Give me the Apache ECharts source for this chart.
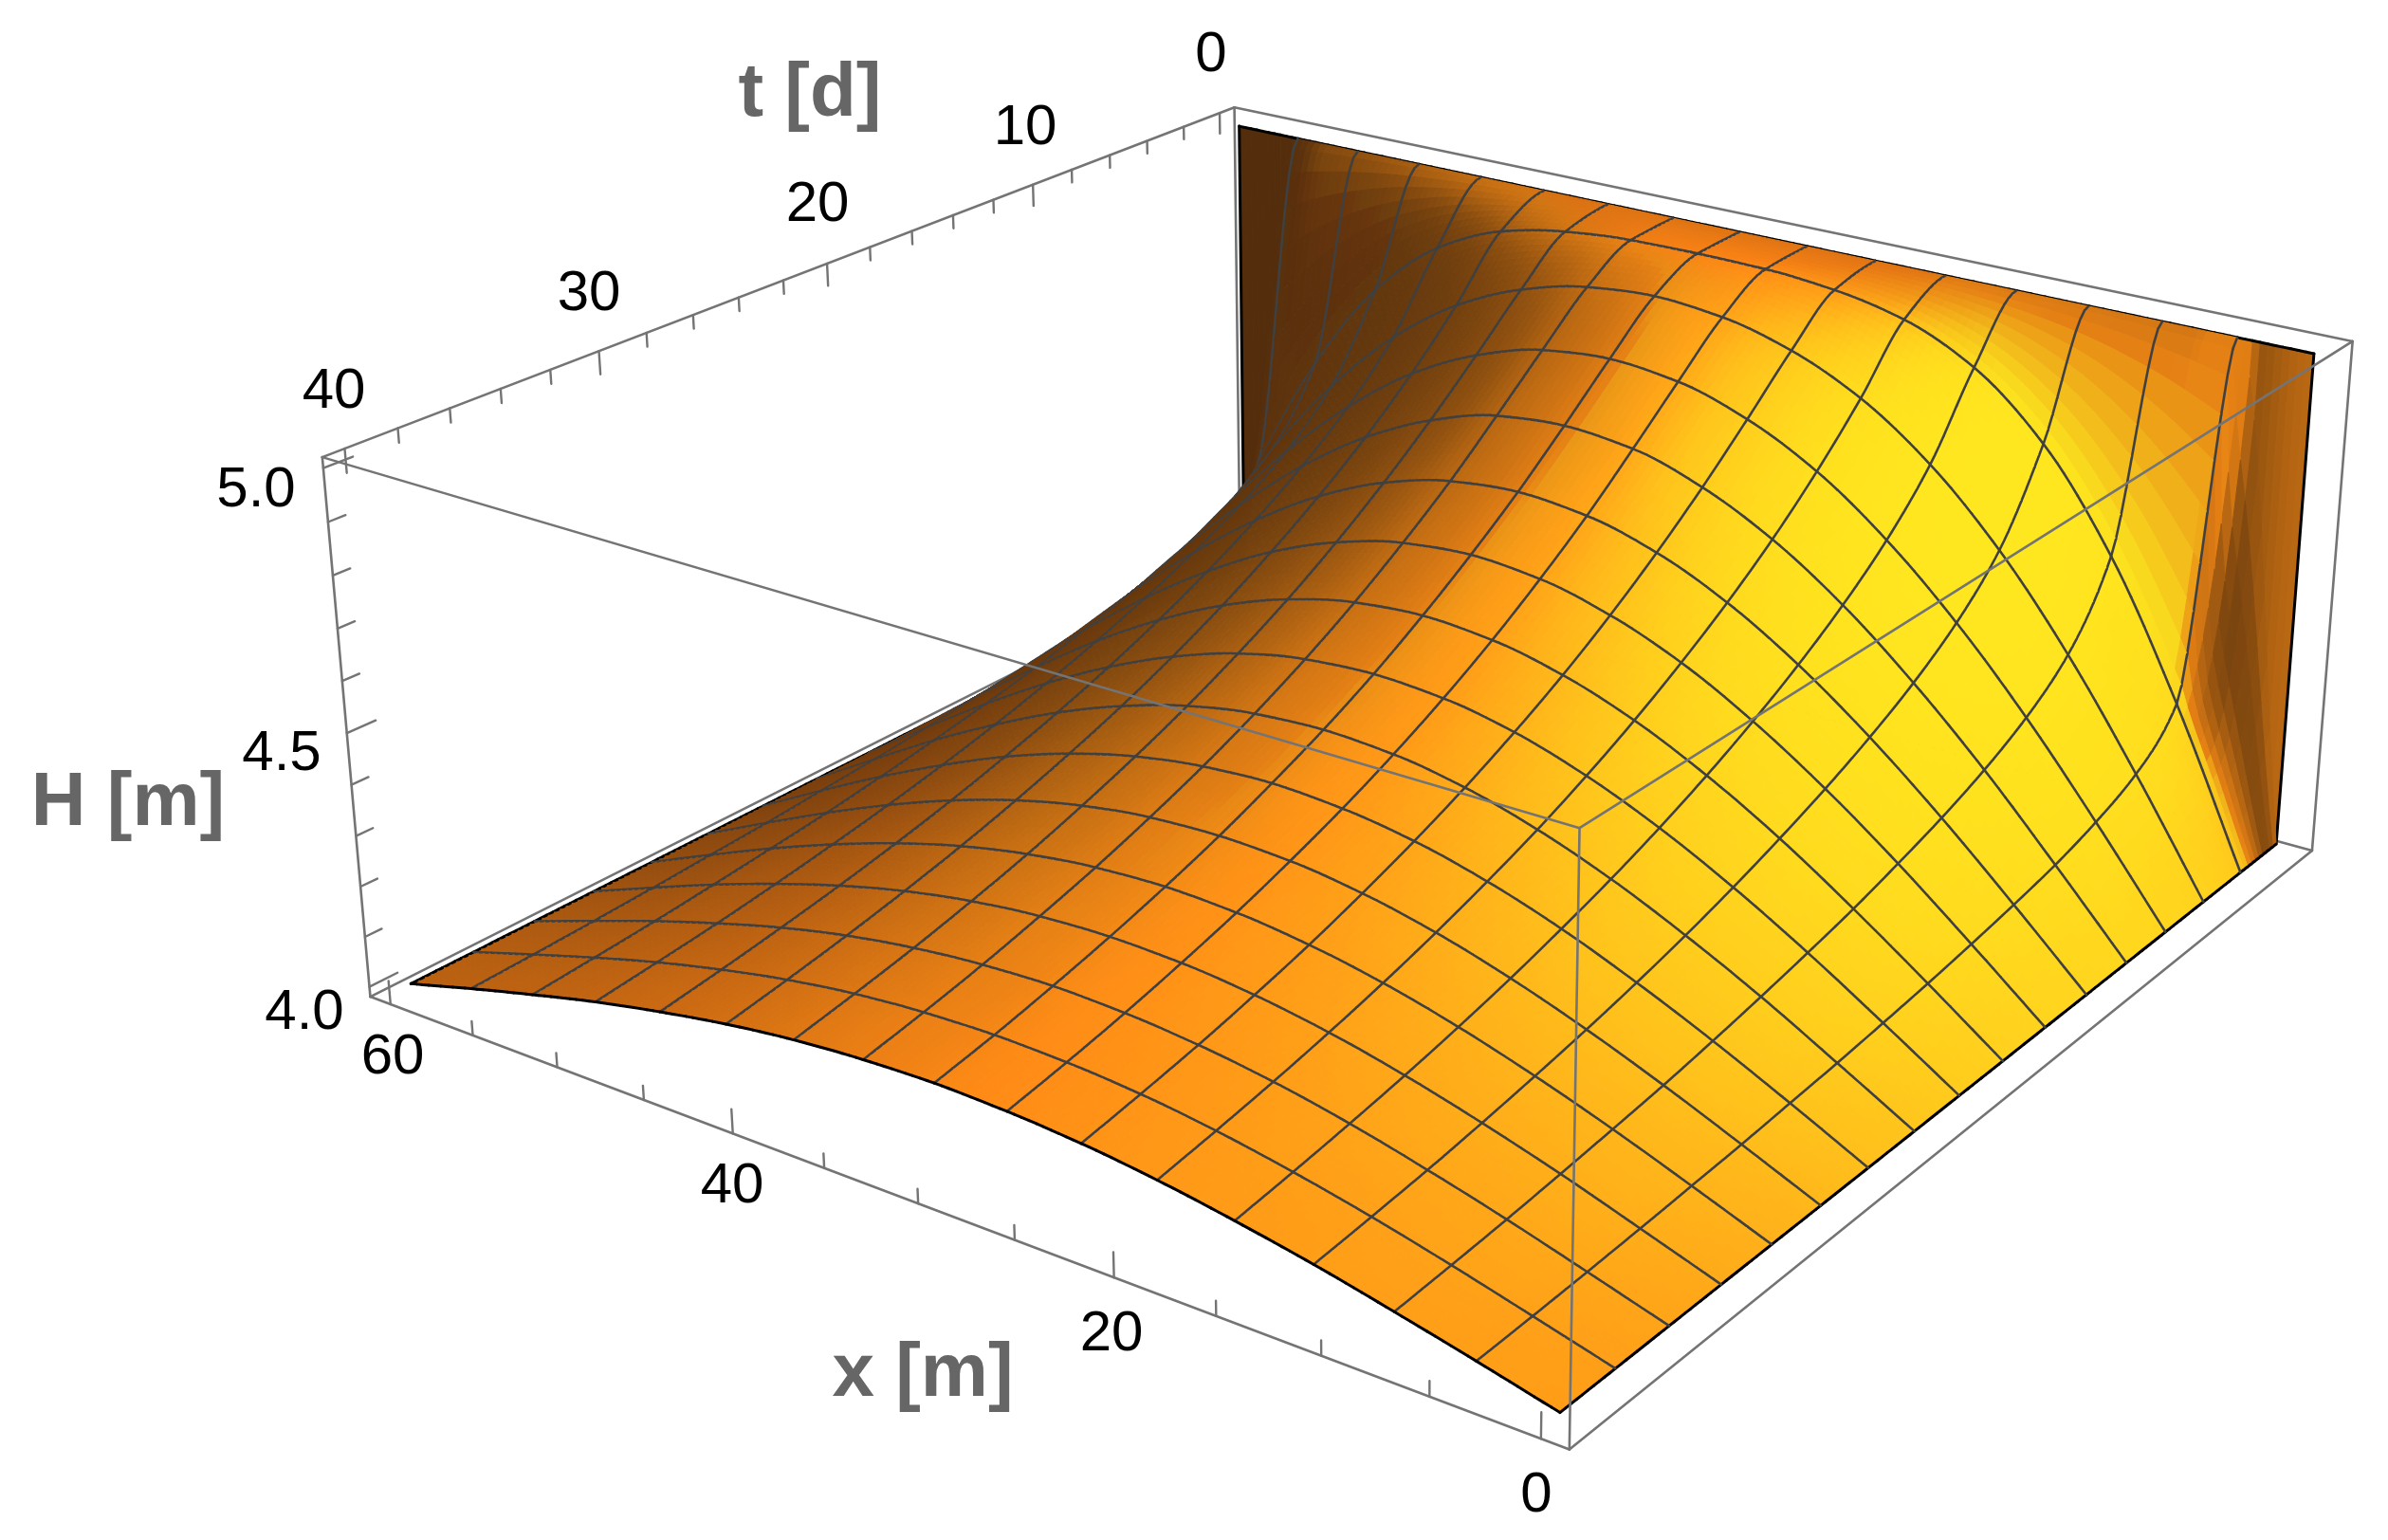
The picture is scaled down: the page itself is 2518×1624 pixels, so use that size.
<!DOCTYPE html>
<html><head><meta charset="utf-8"><style>html,body{margin:0;padding:0;background:#fff}#c{width:2518px;height:1624px}</style>
<script src="https://cdn.jsdelivr.net/npm/echarts@6/dist/echarts.min.js"></script></head>
<body><div id="c"></div><script>
// ---- data ----
const xNodes=[0,3.75,7.5,11.25,15,18.75,22.5,26.25,30,33.75,37.5,41.25,45,48.75,52.5,56.25,60];
const tNodes=[0,0.02,2.5,5,7.5,10,12.5,15,17.5,20,22.5,25,27.5,30,32.5,35,37.5,40];
const H_t0=[5,5,5,5,5,5,5,5,5,5,5,5,5,5,5,5,5];
const H_t002=[4,5,5,5,5,5,5,5,5,5,5,5,5,5,5,5,4];
const H_t2_5=[4,4.310,4.575,4.768,4.889,4.954,4.983,4.995,4.997,4.995,4.983,4.954,4.889,4.768,4.575,4.310,4];
const H_t5=[4,4.222,4.427,4.602,4.740,4.840,4.904,4.940,4.952,4.940,4.904,4.840,4.740,4.602,4.427,4.222,4];
const H_t7_5=[4,4.182,4.354,4.507,4.637,4.740,4.811,4.854,4.868,4.854,4.811,4.740,4.637,4.507,4.354,4.182,4];
const H_t10=[4,4.155,4.305,4.440,4.558,4.653,4.722,4.765,4.778,4.765,4.722,4.653,4.558,4.440,4.305,4.155,4];
const H_t12_5=[4,4.136,4.267,4.387,4.492,4.578,4.641,4.679,4.692,4.679,4.641,4.578,4.492,4.387,4.267,4.136,4];
const H_t15=[4,4.120,4.236,4.342,4.435,4.512,4.568,4.603,4.615,4.603,4.568,4.512,4.435,4.342,4.236,4.120,4];
const H_t17_5=[4,4.106,4.208,4.303,4.385,4.453,4.503,4.534,4.545,4.534,4.503,4.453,4.385,4.303,4.208,4.106,4];
const H_t20=[4,4.094,4.185,4.268,4.341,4.401,4.446,4.473,4.482,4.473,4.446,4.401,4.341,4.268,4.185,4.094,4];
const H_t22_5=[4,4.083,4.164,4.237,4.302,4.355,4.395,4.419,4.427,4.419,4.395,4.355,4.302,4.237,4.164,4.083,4];
const H_t25=[4,4.074,4.145,4.210,4.268,4.315,4.350,4.371,4.379,4.371,4.350,4.315,4.268,4.210,4.145,4.074,4];
const H_t27_5=[4,4.065,4.128,4.186,4.237,4.279,4.310,4.329,4.335,4.329,4.310,4.279,4.237,4.186,4.128,4.065,4];
const H_t30=[4,4.058,4.114,4.165,4.210,4.247,4.274,4.291,4.297,4.291,4.274,4.247,4.210,4.165,4.114,4.058,4];
const H_t32_5=[4,4.051,4.101,4.146,4.186,4.219,4.243,4.258,4.263,4.258,4.243,4.219,4.186,4.146,4.101,4.051,4];
const H_t35=[4,4.045,4.089,4.129,4.165,4.194,4.215,4.228,4.233,4.228,4.215,4.194,4.165,4.129,4.089,4.045,4];
const H_t37_5=[4,4.040,4.079,4.115,4.146,4.172,4.191,4.202,4.206,4.202,4.191,4.172,4.146,4.115,4.079,4.040,4];
const H_t40=[4,4.036,4.070,4.102,4.129,4.152,4.169,4.179,4.183,4.179,4.169,4.152,4.129,4.102,4.070,4.036,4];
const hRows=[H_t0,H_t002,H_t2_5,H_t5,H_t7_5,H_t10,H_t12_5,H_t15,H_t17_5,H_t20,H_t22_5,H_t25,H_t27_5,H_t30,H_t32_5,H_t35,H_t37_5,H_t40];
const xMajorTicks=[60,40,20,0], xMinorTicks=[55,50,45,35,30,25,15,10,5];
const tMajorTicks=[0,10,20,30,40], tMinorTicks=[2,4,6,8,12,14,16,18,22,24,26,28,32,34,36,38];
const hMajorTicks=[4,4.5,5], hMinorTicks=[4.1,4.2,4.3,4.4,4.6,4.7,4.8,4.9];
const xTickLabels=['60','40','20','0'], tTickLabels=['0','10','20','30','40'], hTickLabels=['4.0','4.5','5.0'];
const axisTitles=['x [m]','t [d]','H [m]'];

// ---- view: box limits and where its corners sit on the page ----
const BX=[-1.25,61.25],BT=[-0.83,40.83],BH=[3.98,5.02];
const anchors=[
 [BX[1],BT[0],BH[1],1298,112],[BX[1],BT[1],BH[1],340,482],[BX[1],BT[1],BH[0],389,1052],
 [BX[0],BT[1],BH[0],1656,1528],[BX[0],BT[1],BH[1],1665,875],[BX[0],BT[0],BH[1],2486,361],[BX[0],BT[0],BH[0],2440,900],
 [60,40,4,434,1036],[0,40,4,1645,1489],[0,0,4,2398,888],[0,0,5,2434,370],[60,0,5,1311,135]];
function solve(A,b){const n=b.length;for(let i=0;i<n;i++){let p=i;for(let r=i+1;r<n;r++)if(Math.abs(A[r][i])>Math.abs(A[p][i]))p=r;
 [A[i],A[p]]=[A[p],A[i]];[b[i],b[p]]=[b[p],b[i]];for(let r=i+1;r<n;r++){const f=A[r][i]/A[i][i];for(let c=i;c<n;c++)A[r][c]-=f*A[i][c];b[r]-=f*b[i];}}
 const x=new Array(n);for(let i=n-1;i>=0;i--){let s=b[i];for(let c=i+1;c<n;c++)s-=A[i][c]*x[c];x[i]=s/A[i][i];}return x;}
const P=(function(){const N=Array.from({length:11},()=>new Array(11).fill(0)),R=new Array(11).fill(0);
 function add(row,y){for(let i=0;i<11;i++){R[i]+=row[i]*y;for(let k=0;k<11;k++)N[i][k]+=row[i]*row[k];}}
 anchors.forEach(a=>{const X=a[0]/60,Y=a[1]/40,Z=a[2]-4,u=a[3]/1000,v=a[4]/1000;
  add([X,Y,Z,1,0,0,0,0,-u*X,-u*Y,-u*Z],u);add([0,0,0,0,X,Y,Z,1,-v*X,-v*Y,-v*Z],v);});
 return solve(N,R);})();
function proj(x,t,h){const X=x/60,Y=t/40,Z=h-4,w=P[8]*X+P[9]*Y+P[10]*Z+1;
 return [1000*(P[0]*X+P[1]*Y+P[2]*Z+P[3])/w,1000*(P[4]*X+P[5]*Y+P[6]*Z+P[7])/w];}

// ---- smooth (monotone) drawing of the table ----
function slopes(xs,ys){const n=xs.length,d=[],m=new Array(n);for(let i=0;i<n-1;i++)d.push((ys[i+1]-ys[i])/(xs[i+1]-xs[i]));
 m[0]=d[0];m[n-1]=d[n-2];for(let i=1;i<n-1;i++){if(d[i-1]*d[i]<=0)m[i]=0;else{const a=xs[i]-xs[i-1],b=xs[i+1]-xs[i];m[i]=(a+2*b+2*a+b)/((2*b+a)/d[i-1]+(b+2*a)/d[i]);}}return m;}
function mono(xs,ys,m,x){let i=0;while(i<xs.length-2&&x>xs[i+1])i++;const h=xs[i+1]-xs[i],s=(x-xs[i])/h,s2=s*s,s3=s2*s;
 return (2*s3-3*s2+1)*ys[i]+(s3-2*s2+s)*h*m[i]+(-2*s3+3*s2)*ys[i+1]+(s3-s2)*h*m[i+1];}
const SUB=10;
function samples(nodes,map){const r=[];for(let i=0;i<nodes.length-1;i++){const k=map(nodes[i+1]-nodes[i]);for(let s=0;s<k;s++)r.push(nodes[i]+(nodes[i+1]-nodes[i])*s/k);}r.push(nodes[nodes.length-1]);return r;}
const sx=samples(xNodes,()=>SUB), st=samples(tNodes,d=>d<0.1?1:SUB);
const byRow=hRows.map(row=>{const m=slopes(xNodes,row);return sx.map(x=>mono(xNodes,row,m,x));});
const surf=st.map(()=>new Array(sx.length));
sx.forEach((x,i)=>{const col=byRow.map(r=>r[i]),m=slopes(tNodes,col);st.forEach((t,j)=>{surf[j][i]=mono(tNodes,col,m,t);});});
const pts=st.map((t,j)=>sx.map((x,i)=>proj(x,t,surf[j][i])));
// ---- shading: smoothed cell normals lit like the reference ----
const RZ=0.4,NI=sx.length-1,NJ=st.length-1;
function rawNormal(i,j){const a=[(sx[i+1]-sx[i])/60,(st[j+1]-st[j])/40,RZ*(surf[j+1][i+1]-surf[j][i])],
 b=[(sx[i]-sx[i+1])/60,(st[j+1]-st[j])/40,RZ*(surf[j+1][i]-surf[j][i+1])];
 let n=[a[1]*b[2]-a[2]*b[1],a[2]*b[0]-a[0]*b[2],a[0]*b[1]-a[1]*b[0]];if(n[2]<0)n=n.map(v=>-v);
 const L0=Math.hypot(n[0],n[1],n[2])||1;n=n.map(v=>v/L0);
 const nz=Math.max(n[2],0.02),gx=n[0]/nz;let gy=n[1]/nz;gy=gy/(1+0.8*Math.abs(gy));
 const L=Math.hypot(gx,gy,1);return [gx/L,gy/L,1/L];}
let field=[];for(let j=0;j<NJ;j++){field.push([]);for(let i=0;i<NI;i++)field[j].push(rawNormal(i,j));}
function blur(f,r){return f.map((row,j)=>row.map((_,i)=>{const s=[0,0,0];let c=0;
  for(let b=Math.max(0,j-r);b<=Math.min(NJ-1,j+r);b++)for(let a=Math.max(0,i-r);a<=Math.min(NI-1,i+r);a++){s[0]+=f[b][a][0];s[1]+=f[b][a][1];s[2]+=f[b][a][2];c++;}
  const L=Math.hypot(s[0],s[1],s[2])||1;return [s[0]/L,s[1]/L,s[2]/L];}));}
const sharp=blur(blur(field,2),1);
field=blur(blur(field,3),2);
function soft(v,knee,floor){return v>knee?v:floor+(knee-floor)*Math.exp((v-knee)/(knee-floor));}
function sstep(a,b,v){const s=Math.min(1,Math.max(0,(v-a)/(b-a)));return s*s*(3-2*s);}
function shade(i,j){const n=field[j][i],nsh=sharp[j][i];
 const dg=-0.65*n[0]+0.35*n[1]+0.67*n[2], dr=-0.7*n[0]-0.12*n[1]+0.6*n[2];
 const steep=nsh[0]<0?0.52+0.48*sstep(0.2,0.45,nsh[2]):1;
 const band=1-0.12*Math.max(0,1-st[j]/2.5);
 let R=Math.min(1,soft(0.1+1.5*dr,0.62,0.37));
 let G=soft(0.94*dg-0.14,0.36,0.2)+0.11*sstep(0.8,0.98,dg)-0.25*sstep(0.45,0.7,n[1]);
 R*=steep*band;G*=steep*band;
 G=Math.max(0.52*R,Math.min(G,0.56*R+4*Math.max(0,R-0.9)));
 const B=0.03+0.1*G;
 return 'rgb('+Math.round(255*R)+','+Math.round(255*Math.min(1,G))+','+Math.round(255*B)+')';}
const xMeshIdx=new Set(),tMeshIdx=new Set();
xNodes.forEach(v=>xMeshIdx.add(sx.indexOf(v)));tNodes.forEach(v=>{if(v!==0.02)tMeshIdx.add(st.indexOf(v));});
const cells=[];for(let j=0;j<st.length-1;j++)for(let i=sx.length-2;i>=0;i--)cells.push([i,j]);

const MESH='#404040',EDGE='#000000',BOX='#747474';
function seg(api,a,b,c,w){const p=api.coord(a),q=api.coord(b);return {type:'line',shape:{x1:p[0],y1:p[1],x2:q[0],y2:q[1]},style:{stroke:c,lineWidth:w,lineCap:'round',fill:null},silent:true};}
function renderCell(params,api){const c=cells[params.dataIndex],i=c[0],j=c[1];
 const v=[pts[j][i],pts[j][i+1],pts[j+1][i+1],pts[j+1][i]].map(p=>api.coord(p));const col=shade(i,j);
 const poly={type:'polygon',shape:{points:v},style:{fill:col,stroke:col,lineWidth:1},silent:true};
 const last=sx.length-1,lastT=st.length-1,kids=[poly];
 if(xMeshIdx.has(i+1))kids.push(seg(api,pts[j][i+1],pts[j+1][i+1],i+1===last?EDGE:MESH,i+1===last?3:2.6));
 if(i===0)kids.push(seg(api,pts[j][0],pts[j+1][0],EDGE,3));
 if(tMeshIdx.has(j))kids.push(seg(api,pts[j][i],pts[j][i+1],j===0?EDGE:MESH,j===0?3:2.6));
 if(j+1===lastT)kids.push(seg(api,pts[lastT][i],pts[lastT][i+1],EDGE,3));
 return kids.length===1?poly:{type:'group',children:kids};}

const C={A:[BX[1],BT[0],BH[1]],B:[BX[1],BT[1],BH[1]],C:[BX[1],BT[1],BH[0]],D:[BX[0],BT[1],BH[0]],E:[BX[0],BT[1],BH[1]],F:[BX[0],BT[0],BH[1]],G:[BX[0],BT[0],BH[0]],H:[BX[1],BT[0],BH[0]]};
const backEdges=[['A','B'],['A','F'],['B','C'],['A','H'],['H','C'],['H','G'],['G','F'],['C','D'],['D','G']];
const frontEdges=[['E','B'],['E','F'],['E','D']];
const lines=[];
function tickLine(a,b,w){lines.push([proj(a[0],a[1],a[2]),proj(b[0],b[1],b[2]),w]);}
xMajorTicks.forEach(v=>tickLine([v,BT[1],BH[0]],[v,BT[1],BH[0]+0.047],2.4));
xMinorTicks.forEach(v=>tickLine([v,BT[1],BH[0]],[v,BT[1],BH[0]+0.028],2.4));
tMajorTicks.forEach(v=>tickLine([BX[1],v,BH[1]],[BX[1],v,BH[1]-0.045],2.4));
tMinorTicks.forEach(v=>tickLine([BX[1],v,BH[1]],[BX[1],v,BH[1]-0.027],2.4));
hMajorTicks.forEach(v=>tickLine([BX[1],BT[1],v],[BX[1],BT[1]-1.1,v],2.4));
hMinorTicks.forEach(v=>tickLine([BX[1],BT[1],v],[BX[1],BT[1]-0.65,v],2.4));
function edgeSeries(list,z){const d=list.map(e=>[proj.apply(null,C[e[0]]),proj.apply(null,C[e[1]])]);
 return {type:'custom',coordinateSystem:'cartesian2d',z:z,silent:true,animation:false,clip:false,data:d.map((_,k)=>[k,0]),
  renderItem:(p,api)=>seg(api,d[p.dataIndex][0],d[p.dataIndex][1],BOX,2.6)};}
// label placements (page positions of the text centres)
const TF=60,LF=80;
const texts=[];
function label(str,x,y,size,bold,color){texts.push({str,x,y,size,bold,color});}
const tLabelPos=[[1277,58],[1081,135],[862,216],[621,310],[352,413]];
tTickLabels.forEach((s,k)=>label(s,tLabelPos[k][0],tLabelPos[k][1],TF,false,'#000'));
const hLabelPos=[[321,1068],[297,795],[270,517]];
hTickLabels.forEach((s,k)=>label(s,hLabelPos[k][0],hLabelPos[k][1],TF,false,'#000'));
const xLabelPos=[[414,1115],[772,1251],[1172,1407],[1620,1577]];
xTickLabels.forEach((s,k)=>label(s,xLabelPos[k][0],xLabelPos[k][1],TF,false,'#000'));
const titlePos=[[973,1450],[854,100],[135,848]];
axisTitles.forEach((s,k)=>label(s,titlePos[k][0],titlePos[k][1],LF,true,'#666'));

const chart=echarts.init(document.getElementById('c'),null,{renderer:'canvas'});
chart.setOption({animation:false,backgroundColor:'#fff',
 grid:{left:0,right:0,top:0,bottom:0},
 xAxis:{type:'value',min:0,max:2518,show:false},
 yAxis:{type:'value',min:0,max:1624,inverse:true,show:false},
 series:[
  edgeSeries(backEdges,1),
  {type:'custom',coordinateSystem:'cartesian2d',z:2,silent:true,animation:false,clip:false,progressive:0,data:cells.map((c,k)=>[k,0]),renderItem:renderCell},
  edgeSeries(frontEdges,3),
  {type:'custom',coordinateSystem:'cartesian2d',z:4,silent:true,animation:false,clip:false,data:lines.map((_,k)=>[k,0]),
   renderItem:(p,api)=>{const l=lines[p.dataIndex];return seg(api,l[0],l[1],BOX,l[2]);}},
  {type:'custom',coordinateSystem:'cartesian2d',z:5,silent:true,animation:false,clip:false,data:texts.map((_,k)=>[k,0]),
   renderItem:(p,api)=>{const t=texts[p.dataIndex],q=api.coord([t.x,t.y]);
    return {type:'text',x:q[0],y:q[1],style:{text:t.str,fill:t.color,font:(t.bold?'bold ':'')+t.size+'px "Liberation Sans", Arial, sans-serif',textAlign:'center',textVerticalAlign:'middle'},silent:true};}}
 ]});
</script></body></html>
